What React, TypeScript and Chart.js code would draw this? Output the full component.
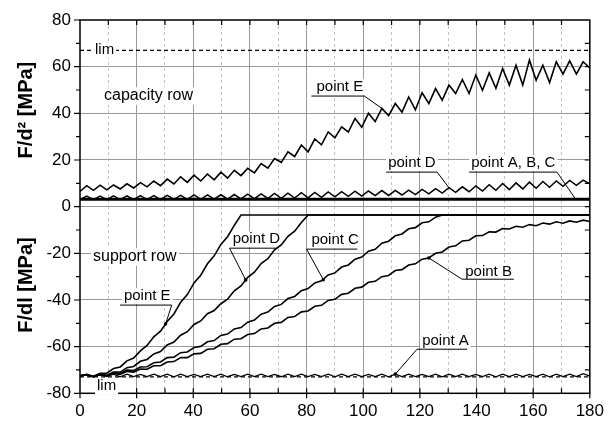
import { useEffect, useRef } from 'react';
import { Chart, registerables } from 'chart.js';

Chart.register(...registerables);

const FONT = '"Liberation Sans", Arial, Helvetica, sans-serif';

// shared x positions (angle)
const xs = [
  0, 2.37, 4.74, 7.11, 9.47, 11.84, 14.21, 16.58, 18.95, 21.32,
  23.68, 26.05, 28.42, 30.79, 33.16, 35.53, 37.89, 40.26, 42.63, 45,
  47.37, 49.74, 52.11, 54.47, 56.84, 59.21, 61.58, 63.95, 66.32, 68.68,
  71.05, 73.42, 75.79, 78.16, 80.53, 82.89, 85.26, 87.63, 90, 92.37,
  94.74, 97.11, 99.47, 101.84, 104.21, 106.58, 108.95, 111.32, 113.68, 116.05,
  118.42, 120.79, 123.16, 125.53, 127.89, 130.26, 132.63, 135, 137.37, 139.74,
  142.11, 144.47, 146.84, 149.21, 151.58, 153.95, 156.32, 158.68, 161.05, 163.42,
  165.79, 168.16, 170.53, 172.89, 175.26, 177.63, 180,
];

// capacity row (F/d^2)
const capE = [
  6.5, 9.0, 7.0, 9.2, 7.2, 9.3, 7.6, 9.8, 8.0, 10.3,
  8.5, 11.0, 9.0, 11.8, 9.7, 12.8, 10.4, 13.5, 11.0, 14.0,
  11.5, 14.8, 12.2, 15.6, 13.3, 16.4, 14.5, 18.5, 16.5, 20.6,
  19.0, 23.5, 21.5, 26.4, 23.5, 29.0, 26.5, 32.0, 29.5, 34.2,
  32.0, 37.8, 34.0, 40.0, 36.5, 42.1, 39.0, 44.2, 40.5, 47.0,
  41.5, 48.8, 44.2, 50.6, 45.6, 52.1, 48.5, 54.5, 48.5, 56.4,
  49.9, 57.3, 50.7, 59.2, 52.1, 60.6, 52.1, 62.8, 54.2, 60.6,
  53.2, 62.1, 56.8, 62.5, 56.8, 62.1, 59.5,
];
const capD = [
  3.0, 4.5, 3.0, 4.5, 3.0, 4.6, 3.0, 4.6, 3.0, 4.7,
  3.0, 4.7, 3.0, 4.8, 3.1, 4.8, 3.1, 5.0, 3.1, 5.0,
  3.2, 5.1, 3.2, 5.2, 3.3, 5.4, 3.4, 5.5, 3.5, 5.7,
  3.6, 5.8, 3.7, 6.0, 3.8, 6.1, 4.0, 6.3, 4.2, 6.4,
  4.4, 6.6, 4.5, 6.7, 4.7, 6.9, 4.8, 7.0, 5.0, 7.1,
  5.2, 7.4, 5.5, 7.7, 5.8, 8.1, 6.1, 8.5, 6.4, 8.9,
  6.7, 9.4, 7.0, 9.9, 7.3, 10.2, 7.6, 10.5, 7.9, 10.8,
  8.3, 11.0, 8.7, 11.2, 9.1, 11.4, 9.8,
];
const capABCx = [0, 180];
const capABC = [3.2, 3.2];
const limCap = 67;

// support row (F/dl)
const supA = [
  -72.5, -71.8, -72.8, -71.9, -72.8, -71.8, -72.9, -71.8, -72.8, -71.9,
  -72.8, -71.8, -72.8, -71.8, -72.9, -71.8, -72.8, -71.9, -72.8, -71.8,
  -72.8, -71.8, -72.9, -71.9, -72.8, -71.8, -72.8, -71.8, -72.8, -71.9,
  -72.9, -71.8, -72.8, -71.8, -72.8, -71.9, -72.8, -71.8, -72.9, -71.8,
  -72.8, -71.8, -72.8, -71.9, -72.8, -71.8, -72.9, -71.8, -72.8, -71.8,
  -72.8, -71.9, -72.8, -71.8, -72.9, -71.8, -72.8, -71.8, -72.8, -71.9,
  -72.8, -71.8, -72.9, -71.8, -72.8, -71.8, -72.8, -71.9, -72.8, -71.8,
  -72.9, -71.8, -72.8, -71.8, -72.8, -71.6, -72.6,
];
const supB = [
  -72.5, -72.1, -72.9, -72.0, -72.6, -71.5, -71.9, -70.6, -70.9, -69.6,
  -69.7, -68.2, -68.2, -66.6, -66.4, -64.7, -64.7, -63.1, -62.9, -61.1,
  -60.9, -59.0, -58.7, -56.8, -56.6, -54.8, -54.4, -52.4, -52.0, -50.0,
  -49.6, -47.5, -47.1, -45.1, -44.7, -42.7, -42.3, -40.2, -39.7, -37.6,
  -37.1, -35.0, -34.5, -32.4, -32.0, -30.0, -29.5, -27.4, -27.0, -25.0,
  -24.5, -22.5, -22.0, -20.0, -19.4, -17.3, -16.8, -14.7, -14.4, -12.5,
  -12.4, -10.8, -10.9, -9.4, -9.6, -8.4, -8.8, -7.7, -8.2, -7.0,
  -7.5, -6.5, -7.1, -6.1, -6.7, -5.8, -6.4,
];
const supC = [
  -72.5, -72.1, -72.9, -71.9, -72.5, -71.2, -71.4, -70.0, -70.2, -68.7,
  -68.6, -66.9, -66.6, -64.7, -64.5, -62.6, -62.3, -60.4, -59.9, -57.9,
  -57.4, -55.2, -54.6, -52.4, -51.8, -49.5, -48.6, -46.1, -45.2, -42.8,
  -41.9, -39.4, -38.5, -36.0, -35.1, -32.7, -31.8, -29.3, -28.4, -25.9,
  -25.0, -22.5, -21.6, -19.1, -18.3, -15.7, -14.8, -12.5, -11.7, -9.5,
  -9.0, -6.9, -6.5, -4.5, -3.6, -3.6, -3.6, -3.6, -3.6, -3.6,
  -3.6, -3.6, -3.6, -3.6, -3.6, -3.6, -3.6, -3.6, -3.6, -3.6,
  -3.6, -3.6, -3.6, -3.6, -3.6, -3.6, -3.6,
];
const supD = [
  -72.5, -72.1, -72.9, -71.8, -72.3, -70.9, -70.9, -69.0, -68.5, -66.3,
  -65.5, -63.1, -62.1, -59.3, -58.0, -55.1, -53.6, -50.5, -49.0, -45.9,
  -44.5, -41.6, -39.7, -36.1, -34.0, -30.3, -28.1, -24.4, -22.3, -18.5,
  -16.4, -12.7, -10.5, -6.8, -3.6, -3.6, -3.6, -3.6, -3.6, -3.6,
  -3.6, -3.6, -3.6, -3.6, -3.6, -3.6, -3.6, -3.6, -3.6, -3.6,
  -3.6, -3.6, -3.6, -3.6, -3.6, -3.6, -3.6, -3.6, -3.6, -3.6,
  -3.6, -3.6, -3.6, -3.6, -3.6, -3.6, -3.6, -3.6, -3.6, -3.6,
  -3.6, -3.6, -3.6, -3.6, -3.6, -3.6, -3.6,
];
const supE = [
  -72.5, -72.0, -72.7, -71.4, -71.4, -69.4, -68.7, -66.1, -64.9, -61.8,
  -59.5, -55.8, -53.4, -49.2, -46.0, -41.0, -37.7, -32.7, -29.4, -24.5,
  -21.1, -16.2, -12.9, -8.0, -3.6, -3.6, -3.6, -3.6, -3.6, -3.6,
  -3.6, -3.6, -3.6, -3.6, -3.6, -3.6, -3.6, -3.6, -3.6, -3.6,
  -3.6, -3.6, -3.6, -3.6, -3.6, -3.6, -3.6, -3.6, -3.6, -3.6,
  -3.6, -3.6, -3.6, -3.6, -3.6, -3.6, -3.6, -3.6, -3.6, -3.6,
  -3.6, -3.6, -3.6, -3.6, -3.6, -3.6, -3.6, -3.6, -3.6, -3.6,
  -3.6, -3.6, -3.6, -3.6, -3.6, -3.6, -3.6,
];
const limSup = -73;

// tick labels
const xTickLabels = [0, 20, 40, 60, 80, 100, 120, 140, 160, 180];
const yTickLabels = [-80, -60, -40, -20, 0, 20, 40, 60, 80];

// annotation labels (data coordinates)
type Note = {
  text: string; tx: number; ty: number;
  u0: number; u1: number; uy: number;
  fromEnd: boolean; px: number; py: number; dot: boolean;
};
const NOTES: Note[] = [
  { text: 'point E', tx: 83.5, ty: 51.2, u0: 81.7, u1: 100.4, uy: 47.4, fromEnd: true, px: 106.58, py: 42.1, dot: false },
  { text: 'point D', tx: 108.8, ty: 18.6, u0: 108.1, u1: 126.1, uy: 14.8, fromEnd: true, px: 130.26, py: 8.1, dot: false },
  { text: 'point A, B, C', tx: 138.1, ty: 18.6, u0: 137.4, u1: 168.4, uy: 14.8, fromEnd: true, px: 175, py: 3.2, dot: false },
  { text: 'point E', tx: 15.5, ty: -38.4, u0: 14.1, u1: 32.4, uy: -42.2, fromEnd: true, px: 30.2, py: -50.3, dot: true },
  { text: 'point D', tx: 53.9, ty: -13.9, u0: 52.8, u1: 69.4, uy: -17.8, fromEnd: false, px: 58.5, py: -31.4, dot: true },
  { text: 'point C', tx: 81.7, ty: -14.4, u0: 80.0, u1: 97.9, uy: -18.2, fromEnd: false, px: 85.9, py: -31.3, dot: true },
  { text: 'point B', tx: 136.0, ty: -28.1, u0: 134.9, u1: 153.2, uy: -31.1, fromEnd: false, px: 123.16, py: -22.0, dot: true },
  { text: 'point A', tx: 120.8, ty: -57.6, u0: 119.0, u1: 136.7, uy: -61.1, fromEnd: false, px: 111.32, py: -71.8, dot: true },
];
// plain labels; "over" = background drawn above the curves (covers the lim line)
const PLAIN: { text: string; tx: number; ty: number; size: number; over: boolean }[] = [
  { text: 'lim', tx: 5.3, ty: 67.3, size: 15, over: true },
  { text: 'lim', tx: 6.0, ty: -77.0, size: 15, over: true },
  { text: 'capacity row', tx: 8.5, ty: 47.4, size: 16, over: false },
  { text: 'support row', tx: 4.6, ty: -21.6, size: 16, over: false },
];
const TITLES = [
  { text: 'F/d\u00B2 [MPa]', ty: 41.4 },
  { text: 'F/dl [MPa]', ty: -33.6 },
];

const pts = (xa: number[], ya: number[]) => xa.map((x, i) => ({ x, y: ya[i] }));

const NOTE_SIZE = 15;

const decorPlugin = {
  id: 'decor',
  beforeDatasetsDraw(chart: any) {
    const { ctx } = chart;
    const X = (v: number) => chart.scales.x.getPixelForValue(v);
    const Y = (v: number) => chart.scales.y.getPixelForValue(v);
    ctx.save();
    ctx.fillStyle = '#fff';
    ctx.font = `${NOTE_SIZE}px ${FONT}`;
    NOTES.forEach((n) => {
      const w = ctx.measureText(n.text).width;
      ctx.fillRect(X(n.tx) - 2, Y(n.ty) - 8, w + 4, 16);
    });
    PLAIN.filter((p) => !p.over).forEach((p) => {
      ctx.font = `${p.size}px ${FONT}`;
      const w = ctx.measureText(p.text).width;
      ctx.fillRect(X(p.tx) - 2, Y(p.ty) - p.size * 0.55, w + 4, p.size * 1.1);
    });
    ctx.restore();
  },
  afterDatasetsDraw(chart: any) {
    const { ctx, chartArea: ca } = chart;
    const sx = chart.scales.x;
    const sy = chart.scales.y;
    const X = (v: number) => sx.getPixelForValue(v);
    const Y = (v: number) => sy.getPixelForValue(v);
    ctx.save();

    // frame
    ctx.strokeStyle = '#000';
    ctx.lineWidth = 1.5;
    ctx.strokeRect(ca.left, ca.top, ca.right - ca.left, ca.bottom - ca.top);

    // tick marks
    ctx.lineWidth = 1.2;
    ctx.beginPath();
    sy.ticks.forEach((t: any) => {
      const y = Y(t.value);
      const major = yTickLabels.includes(t.value);
      ctx.moveTo(ca.left - (major ? 6 : 4), y);
      ctx.lineTo(ca.left, y);
      if (t.value > sy.min && t.value < sy.max) {
        ctx.moveTo(ca.right - 5, y);
        ctx.lineTo(ca.right, y);
      }
    });
    sx.ticks.forEach((t: any) => {
      const x = X(t.value);
      if (t.value > sx.min && t.value < sx.max) {
        ctx.moveTo(x, ca.top);
        ctx.lineTo(x, ca.top + 5);
        ctx.moveTo(x, ca.bottom);
        ctx.lineTo(x, ca.bottom - 5);
      }
      if (xTickLabels.includes(t.value)) {
        ctx.moveTo(x, ca.bottom);
        ctx.lineTo(x, ca.bottom + 5);
      }
    });
    ctx.stroke();

    // plain labels
    ctx.textBaseline = 'middle';
    ctx.textAlign = 'left';
    PLAIN.forEach((p) => {
      ctx.font = `${p.size}px ${FONT}`;
      const x = X(p.tx);
      const y = Y(p.ty);
      if (p.over) {
        const w = ctx.measureText(p.text).width;
        ctx.fillStyle = '#fff';
        ctx.fillRect(x - 2, y - p.size * 0.55, w + 4, p.size * 1.1);
      }
      ctx.fillStyle = '#000';
      ctx.fillText(p.text, x, y);
    });

    // annotated labels
    ctx.font = `${NOTE_SIZE}px ${FONT}`;
    NOTES.forEach((n) => {
      ctx.fillStyle = '#000';
      ctx.fillText(n.text, X(n.tx), Y(n.ty));
      const uy = Y(n.uy);
      const ux0 = X(n.u0);
      const ux1 = X(n.u1);
      ctx.lineWidth = 1;
      ctx.strokeStyle = '#000';
      ctx.beginPath();
      ctx.moveTo(ux0, uy);
      ctx.lineTo(ux1, uy);
      ctx.moveTo(n.fromEnd ? ux1 : ux0, uy);
      ctx.lineTo(X(n.px), Y(n.py));
      ctx.stroke();
      if (n.dot) {
        ctx.beginPath();
        ctx.arc(X(n.px), Y(n.py), 1.8, 0, Math.PI * 2);
        ctx.fill();
      }
    });

    // axis titles
    ctx.font = `bold 20px ${FONT}`;
    ctx.textAlign = 'center';
    ctx.fillStyle = '#000';
    TITLES.forEach((t) => {
      ctx.save();
      ctx.translate(ca.left - 54, Y(t.ty));
      ctx.rotate(-Math.PI / 2);
      ctx.fillText(t.text, 0, 0);
      ctx.restore();
    });

    ctx.restore();
  },
};

export default function App() {
  const ref = useRef<HTMLCanvasElement | null>(null);

  useEffect(() => {
    if (!ref.current) return;
    const line = (label: string, data: any[], width: number, dash: number[] = []) => ({
      label,
      data,
      borderColor: '#000',
      backgroundColor: '#000',
      borderWidth: width,
      borderDash: dash,
      pointRadius: 0,
      tension: 0,
      fill: false,
    });
    const chart = new Chart(ref.current, {
      type: 'line',
      data: {
        datasets: [
          line('lim (capacity)', pts([0, 180], [limCap, limCap]), 1.2, [4, 3]),
          line('lim (support)', pts([0, 180], [limSup, limSup]), 1.2, [4, 3]),
          line('capacity point E', pts(xs, capE), 1.6),
          line('capacity point D', pts(xs, capD), 1.5),
          line('capacity point A, B, C', pts(capABCx, capABC), 3),
          line('support point A', pts(xs, supA), 1.3),
          line('support point B', pts(xs, supB), 1.6),
          line('support point C', pts(xs, supC), 1.6),
          line('support point D', pts(xs, supD), 1.6),
          line('support point E', pts(xs, supE), 1.6),
        ],
      },
      options: {
        animation: false,
        responsive: false,
        devicePixelRatio: 1,
        layout: { padding: { top: 20, right: 21, left: 0, bottom: 0 } },
        plugins: { legend: { display: false }, tooltip: { enabled: false } },
        scales: {
          x: {
            type: 'linear',
            min: 0,
            max: 180,
            afterFit: (s: any) => { s.height = 28.7; },
            ticks: {
              stepSize: 10,
              autoSkip: false,
              maxRotation: 0,
              padding: 8,
              color: '#000',
              font: { family: FONT, size: 17 },
              callback: (v: any) => (xTickLabels.includes(Number(v)) ? String(v) : ''),
            },
            grid: {
              drawTicks: false,
              lineWidth: 1,
              color: (c: any) => {
                const v = c.tick ? c.tick.value : undefined;
                if (v === undefined || v <= 0 || v >= 180) return 'rgba(0,0,0,0)';
                return xTickLabels.includes(v) ? '#9a9a9a' : '#c2c2c2';
              },
            },
            border: {
              display: false,
              dash: (c: any) => (c.tick && !xTickLabels.includes(c.tick.value) ? [3, 3] : []),
            },
          },
          y: {
            type: 'linear',
            min: -80,
            max: 80,
            afterFit: (s: any) => { s.width = 80; },
            ticks: {
              stepSize: 10,
              autoSkip: false,
              padding: 9,
              color: '#000',
              font: { family: FONT, size: 17 },
              callback: (v: any) => (yTickLabels.includes(Number(v)) ? String(v) : ''),
            },
            grid: {
              drawTicks: false,
              lineWidth: 1,
              color: (c: any) => {
                const v = c.tick ? c.tick.value : undefined;
                if (v === undefined || Math.abs(v) >= 80 || !yTickLabels.includes(v)) return 'rgba(0,0,0,0)';
                return '#9a9a9a';
              },
            },
            border: { display: false },
          },
        },
      },
      plugins: [decorPlugin],
    });
    return () => chart.destroy();
  }, []);

  return (
    <div style={{ position: 'fixed', left: 0, top: 0, width: 612, height: 422, background: '#fff' }}>
      <canvas ref={ref} width={612} height={422} style={{ display: 'block' }} />
    </div>
  );
}
